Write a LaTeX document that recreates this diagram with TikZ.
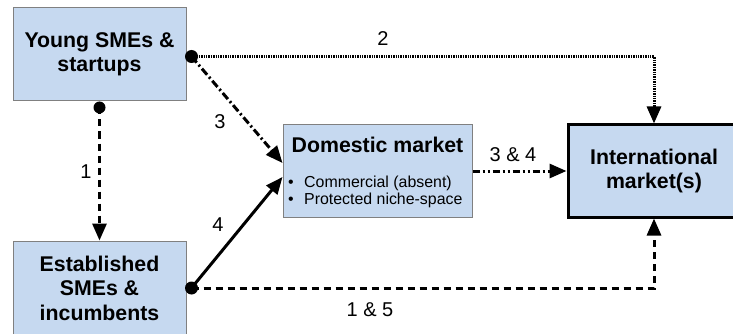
\documentclass[tikz,border=0pt]{standalone}
\usepackage{fontspec}
\setmainfont{Liberation Sans}
\usetikzlibrary{arrows.meta,calc}
\definecolor{boxfill}{RGB}{198,217,240}
\definecolor{boxline}{RGB}{128,128,128}
\newcommand\boxfont{\fontsize{21.3}{24.5}\selectfont\bfseries}
\newcommand\smallfont{\fontsize{15.9}{17}\selectfont}
\newcommand\labfont{\fontsize{20}{23}\selectfont}
\begin{document}
\begin{tikzpicture}[x=1pt,y=-1pt,
  box/.style={draw=boxline, line width=1pt, fill=boxfill, inner sep=0pt, align=center, font=\boxfont},
  lab/.style={font=\labfont, inner sep=0pt},
  tip/.style={-{Triangle[length=17pt,width=14pt]}},
  conn/.style={line width=3pt, tip},
  l1/.style={conn, dash pattern=on 7pt off 5pt},
  l2/.style={conn, line width=3pt, dash pattern=on 1.4pt off 1pt},
  l3/.style={conn, dash pattern=on 8pt off 3pt on 2pt off 3pt},
  l4/.style={conn},
  l34/.style={conn, dash pattern=on 7pt off 3pt on 2pt off 3pt on 2pt off 3pt},
  dot/.style={fill=black}]
\useasboundingbox (0,0) rectangle (733,334);

\node[box, minimum width=173pt, minimum height=93pt] (young) at (99.5,54.5) {Young SMEs \&\\startups};
\node[box, minimum width=173pt, minimum height=94pt] (est) at (99.5,288) {Established\\SMEs \&\\incumbents};
\node[box, minimum width=189pt, minimum height=92pt] (dom) at (377.5,171) {};
\node[font=\boxfont, inner sep=0pt] (domtitle) at (377.5,145) {Domestic market};
\node[font=\smallfont, align=left, anchor=west, inner sep=0pt] (domlist) at (288,191.5) {\makebox[16pt][l]{•}Commercial (absent)\\\makebox[16pt][l]{•}Protected niche-space};
\node[box, draw=black, line width=3pt, minimum width=172pt, minimum height=92pt] (intl) at (654,171) {International\\market(s)};

\coordinate (ydot) at ($(young.east)+(5,2)$);
\coordinate (ybot) at ($(young.south)+(0,6)$);
\coordinate (edot) at ($(est.east)+(5,0)$);

\draw[l2] (ydot) -| (intl.north);
\draw[l3] (ydot) -- ($(dom.west)+(0,-8)$);
\draw[l1] (ybot) -- (est.north);
\draw[l4] (edot) -- ($(dom.west)+(0,6)$);
\draw[l1] (edot) -| (intl.south);
\draw[l34] (dom.east) -- (dom.east -| intl.west);

\fill[dot] (ydot) circle (6.5pt);
\fill[dot] (ybot) circle (6pt);
\fill[dot] (edot) circle (6.5pt);

\node[lab] (n2) at (383,39) {2};
\node[lab] (n3) at (220,122) {3};
\node[lab] (n1) at (86,172) {1};
\node[lab] (n4) at (218,225) {4};
\node[lab] (n34) at (513,155) {3 \& 4};
\node[lab] (n15) at (370,310) {1 \& 5};
\end{tikzpicture}
\end{document}
